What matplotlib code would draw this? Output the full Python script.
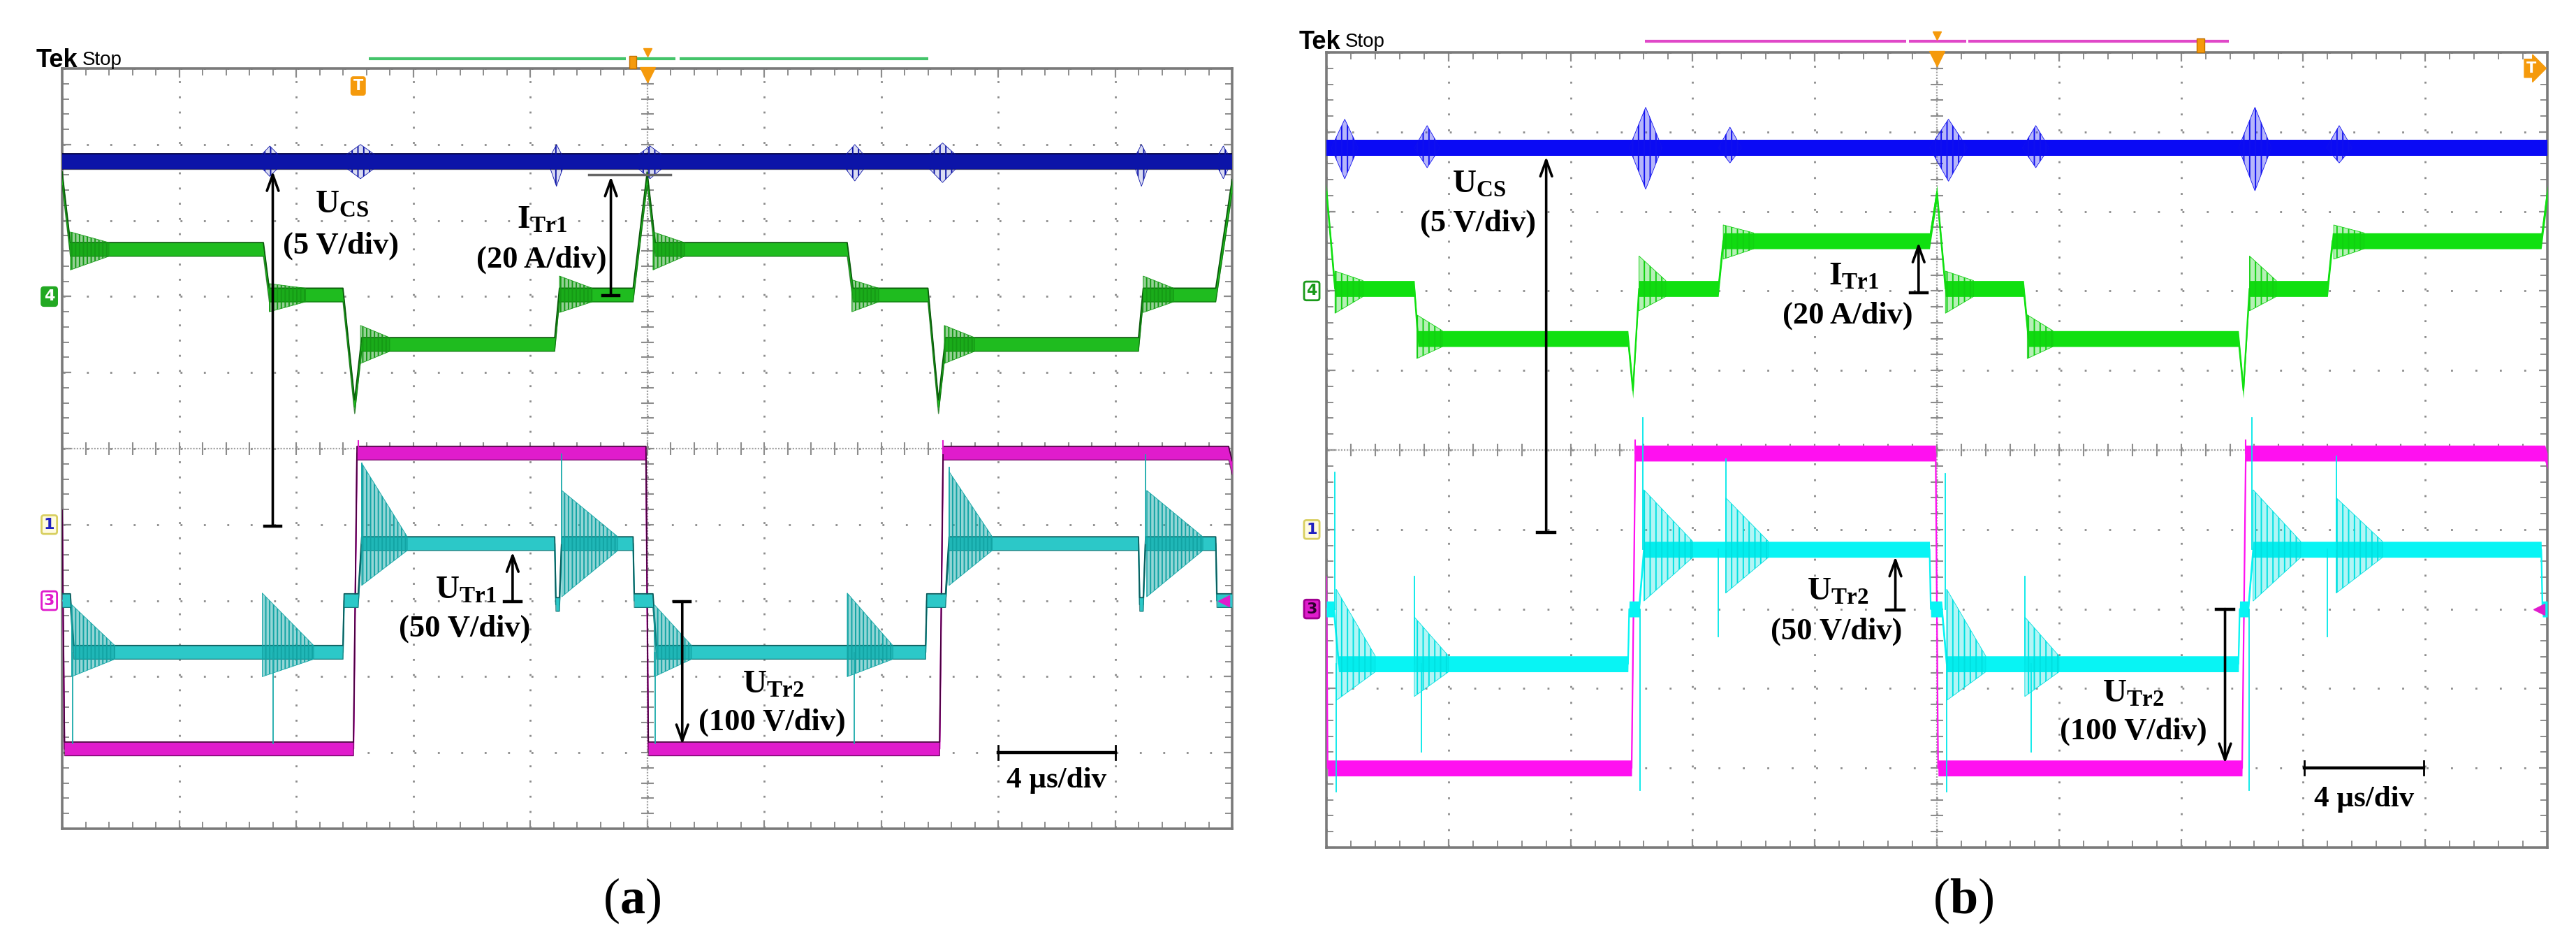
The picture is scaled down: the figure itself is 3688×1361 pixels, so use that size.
import numpy as np
import matplotlib
matplotlib.use('Agg')
import matplotlib.pyplot as plt
from matplotlib.ticker import MultipleLocator
from matplotlib.patches import Rectangle
from matplotlib.colors import to_rgba

plt.rcParams['lines.scale_dashes'] = False
plt.rcParams['hatch.linewidth'] = 1.4
plt.rcParams['mathtext.fontset'] = 'custom'
plt.rcParams['mathtext.rm'] = 'Liberation Serif'
plt.rcParams['mathtext.bf'] = 'Liberation Serif:bold'
plt.rcParams['mathtext.it'] = 'Liberation Serif:italic'

W, H = 3688, 1361
FW, FH = W / 100, H / 100

# ---------------- panel (a) : x in div (4 us/div), y in div ----------------
a_blue_x = [0.0, 10.0]
a_blue_y = [3.78, 3.78]
a_blue_burst = [(1.65, 1.90, 3.98, 3.58), (2.35, 2.75, 4.00, 3.55), (4.15, 4.30, 4.00, 3.45),
                (4.85, 5.20, 3.98, 3.55), (6.65, 6.90, 4.00, 3.52), (7.35, 7.70, 4.02, 3.50),
                (9.15, 9.30, 4.00, 3.45), (9.85, 10.0, 3.98, 3.55)]

a_green_x = [0.0, 0.07, 1.72, 1.77, 2.40, 2.50, 2.56, 4.21, 4.25, 4.88, 5.00,
             5.07, 6.71, 6.76, 7.40, 7.49, 7.55, 9.20, 9.24, 9.86, 10.0]
a_green_y = [3.55, 2.62, 2.62, 2.02, 2.02, 0.55, 1.37, 1.37, 2.02, 2.02, 3.55,
             2.62, 2.62, 2.02, 2.02, 0.55, 1.37, 1.37, 2.02, 2.02, 3.45]
a_green_ring = [(0.07, 0.40, 2.85, 2.35, 2.62), (1.77, 2.08, 2.17, 1.80, 2.02),
                (2.55, 2.80, 1.62, 1.12, 1.37), (4.25, 4.53, 2.27, 1.79, 2.02),
                (5.05, 5.32, 2.85, 2.35, 2.62), (6.75, 6.98, 2.22, 1.80, 2.02),
                (7.54, 7.80, 1.62, 1.12, 1.37), (9.24, 9.50, 2.27, 1.79, 2.02)]

a_mag_x = [0.0, 0.02, 2.49, 2.52, 4.99, 5.01, 7.50, 7.53, 9.97, 10.0]
a_mag_y = [-0.90, -3.95, -3.95, -0.06, -0.06, -3.95, -3.95, -0.06, -0.06, -0.25]
a_mag_spk = [(2.53, -0.06, 0.10), (7.53, -0.06, 0.10)]

a_cyan_x = [0.0, 0.07, 0.10, 2.40, 2.41, 2.53, 2.56, 4.21, 4.22, 4.25, 4.27, 4.88, 4.89,
            5.05, 5.08, 7.38, 7.39, 7.55, 7.58, 9.20, 9.21, 9.24, 9.26, 9.86, 9.87, 10.0]
a_cyan_y = [-2.0, -2.0, -2.68, -2.68, -2.0, -2.0, -1.25, -1.25, -2.05, -2.05, -1.25, -1.25, -2.0,
            -2.0, -2.68, -2.68, -2.0, -2.0, -1.25, -1.25, -2.05, -2.05, -1.25, -1.25, -2.0, -2.0]
a_cyan_ring = [(0.08, 0.45, -2.05, -3.00, -2.68), (1.71, 2.15, -1.90, -3.00, -2.68),
               (2.56, 2.95, -0.19, -1.80, -1.25), (4.27, 4.75, -0.55, -1.95, -1.25),
               (5.06, 5.38, -2.05, -3.00, -2.68), (6.71, 7.10, -1.90, -3.00, -2.68),
               (7.58, 7.95, -0.30, -1.80, -1.25), (9.27, 9.75, -0.55, -1.95, -1.25)]
a_cyan_spk = [(0.09, -2.68, -3.88), (1.80, -2.68, -3.88), (5.07, -2.68, -3.88), (6.77, -2.68, -3.88),
              (2.56, -1.25, -0.19), (4.27, -1.25, -0.07), (7.58, -1.25, -0.25), (9.26, -1.25, -0.08)]

# ---------------- panel (b) ----------------
b_blue_x = [0.0, 10.0]
b_blue_y = [3.80, 3.80]
b_blue_burst = [(0.04, 0.26, 4.16, 3.41), (0.72, 0.93, 4.08, 3.55), (2.48, 2.75, 4.31, 3.28),
                (3.21, 3.40, 4.06, 3.61), (4.94, 5.25, 4.16, 3.38), (5.70, 5.92, 4.08, 3.55),
                (7.47, 7.74, 4.31, 3.26), (8.19, 8.40, 4.08, 3.61)]

b_green_x = [0.0, 0.07, 0.72, 0.75, 2.47, 2.51, 2.56, 3.21, 3.25, 4.94, 5.00,
             5.07, 5.71, 5.75, 7.47, 7.51, 7.56, 8.20, 8.24, 9.95, 10.0]
b_green_y = [3.25, 2.03, 2.03, 1.40, 1.40, 0.75, 2.03, 2.03, 2.63, 2.63, 3.23,
             2.03, 2.03, 1.40, 1.40, 0.75, 2.03, 2.03, 2.63, 2.63, 3.23]
b_green_ring = [(0.07, 0.30, 2.25, 1.72, 2.03), (0.74, 0.95, 1.70, 1.15, 1.40),
                (2.56, 2.78, 2.44, 1.75, 2.03), (3.25, 3.50, 2.83, 2.40, 2.63),
                (5.07, 5.30, 2.25, 1.72, 2.03), (5.74, 5.95, 1.70, 1.15, 1.40),
                (7.56, 7.78, 2.44, 1.75, 2.03), (8.25, 8.50, 2.83, 2.40, 2.63)]

b_mag_x = [0.0, 0.01, 2.50, 2.53, 4.99, 5.01, 7.50, 7.53, 9.98, 10.0]
b_mag_y = [-1.60, -4.0, -4.0, -0.04, -0.04, -4.0, -4.0, -0.04, -0.04, -0.14]
b_mag_spk = [(2.53, -0.04, 0.12), (7.53, -0.04, 0.12)]

b_cyan_x = [0.0, 0.06, 0.10, 2.47, 2.48, 2.56, 2.60, 4.94, 4.95, 5.04, 5.08,
            7.47, 7.48, 7.55, 7.59, 9.95, 9.96, 10.0]
b_cyan_y = [-2.0, -2.0, -2.69, -2.69, -2.0, -2.0, -1.25, -1.25, -2.0, -2.0, -2.69,
            -2.69, -2.0, -2.0, -1.25, -1.25, -2.0, -2.0]
b_cyan_ring = [(0.08, 0.40, -1.75, -3.15, -2.69), (0.72, 1.00, -2.10, -3.10, -2.69),
               (2.60, 3.00, -0.50, -1.90, -1.25), (3.27, 3.62, -0.60, -1.80, -1.25),
               (5.08, 5.40, -1.75, -3.15, -2.69), (5.72, 6.00, -2.10, -3.10, -2.69),
               (7.59, 7.98, -0.50, -1.90, -1.25), (8.27, 8.65, -0.60, -1.80, -1.25)]
b_cyan_spk = [(0.07, -2.0, -0.28), (0.08, -2.69, -4.30), (0.72, -2.69, -1.59), (0.78, -2.69, -3.80),
              (2.59, -1.25, 0.40), (2.57, -2.0, -4.28), (3.21, -1.25, -2.35), (3.27, -1.25, -0.11),
              (5.07, -2.0, -0.30), (5.08, -2.69, -4.30), (5.72, -2.69, -1.59), (5.77, -2.69, -3.80),
              (7.58, -1.25, 0.40), (7.56, -2.0, -4.28), (8.20, -1.25, -2.35), (8.27, -1.25, -0.08)]

GRID = '#8c8c8c'
ORANGE = '#f59a0c'


def trace(ax, x, y, w, col, edge=None, lw=1.6):
    x = np.asarray(x)
    y = np.asarray(y)
    ax.fill_between(x, y - w, y + w, color=col, lw=0, zorder=3)
    ax.plot(x, y, color=col, lw=lw, zorder=3)
    if edge:
        ax.plot(x, y + w, color=edge, lw=1.3, zorder=3)
        ax.plot(x, y - w, color=edge, lw=0.9, zorder=3, alpha=0.7)


def rings(ax, rl, w, col, hatch='|||', alpha=0.45):
    for x0, x1, t, b, s in rl:
        ax.fill([x0, x1, x1, x0], [t, s + w, s - w, b], facecolor=to_rgba(col, alpha),
                edgecolor=col, hatch=hatch, lw=0.6, zorder=3)


def bursts(ax, bl, lev, col, hatch='|||', alpha=0.3):
    for x0, x1, t, b in bl:
        xc = (x0 + x1) / 2
        ax.fill([x0, xc, x1, xc], [lev, t, lev, b], facecolor=to_rgba(col, alpha),
                edgecolor=col, hatch=hatch, lw=0.6, zorder=3)


def spikes(ax, sl, col, lw=1.5):
    for x, y0, y1 in sl:
        ax.plot([x, x], [y0, y1], color=col, lw=lw, zorder=3)


def graticule(ax):
    ax.set_xlim(0, 10)
    ax.set_ylim(-5, 5)
    for a in (ax.xaxis, ax.yaxis):
        a.set_major_locator(MultipleLocator(1))
        a.set_minor_locator(MultipleLocator(0.2))
    ax.tick_params(which='both', direction='in', top=True, right=True,
                   labelbottom=False, labelleft=False, colors=GRID)
    ax.tick_params(which='major', length=9, width=1.6)
    ax.tick_params(which='minor', length=7, width=1.4)
    for s in ax.spines.values():
        s.set_color('#7a7a7a')
        s.set_linewidth(2.6)
    bb = ax.get_position()
    wpt = bb.width * FW * 72 / 50
    hpt = bb.height * FH * 72 / 50
    ax.xaxis.grid(True, which='major', color=GRID, lw=2.0, linestyle=(-1, (2.0, hpt - 2.0)))
    ax.yaxis.grid(True, which='major', color=GRID, lw=2.0, linestyle=(-1, (2.0, wpt - 2.0)))
    ax.set_axisbelow(True)
    ax.axhline(0, color='#a0a0a0', lw=1.6, ls=(0, (1.5, 1.5)), zorder=1)
    ax.axvline(5, color='#a0a0a0', lw=1.6, ls=(0, (1.5, 1.5)), zorder=1)
    tk = np.arange(0, 10.01, 0.2)
    ax.plot(tk, np.zeros_like(tk), ls='none', marker='|', ms=13, mew=1.5, color=GRID, zorder=1)
    ax.plot(np.full_like(tk, 5.0), tk - 5, ls='none', marker='_', ms=13, mew=1.5, color=GRID, zorder=1)


def arrow(ax, x, tip, tail, d=0.07):
    ax.annotate('', xy=(x, tip), xytext=(x, tail), zorder=6,
                arrowprops=dict(arrowstyle='->,head_length=0.55,head_width=0.2', color='k',
                                lw=2.6, shrinkA=0, shrinkB=0, mutation_scale=30))
    ax.plot([x - d, x + d], [tail, tail], color='k', lw=3.2, zorder=6)


def label(ax, x, y, s, fs=32):
    ax.text(x, y, s, ha='center', va='center', fontsize=fs, fontweight='bold',
            family='Liberation Serif', zorder=7)


def scalebar(ax, x0, x1, y, ty):
    ax.plot([x0, x1], [y, y], color='k', lw=3.2, zorder=6)
    ax.plot([x0, x0], [y - 0.09, y + 0.09], color='k', lw=2, zorder=6)
    ax.plot([x1, x1], [y - 0.09, y + 0.09], color='k', lw=2, zorder=6)
    label(ax, (x0 + x1) / 2, ty, '4 \u00b5s/div', fs=31)


def chmark(ax, x, y, s, fc, ec, tc):
    ax.text(x, y, s, ha='center', va='center', fontsize=16, fontweight='bold', color=tc,
            family='DejaVu Sans', zorder=7, clip_on=False,
            bbox=dict(boxstyle='round,pad=0.15', fc=fc, ec=ec, lw=2))


fig = plt.figure(figsize=(FW, FH), dpi=100)
fig.patch.set_facecolor('white')

ax_a = fig.add_axes([89 / W, 1 - 1186 / H, (1764 - 89) / W, (1186 - 98) / H])
ax_b = fig.add_axes([1899 / W, 1 - 1213 / H, (3647 - 1899) / W, (1213 - 75) / H])
graticule(ax_a)
graticule(ax_b)

# ---- panel (a) traces ----
trace(ax_a, a_blue_x, a_blue_y, 0.10, '#0c14a8', '#000040', lw=2)
bursts(ax_a, a_blue_burst, 3.78, '#0c14a8', hatch='||', alpha=0.15)
trace(ax_a, a_green_x, a_green_y, 0.09, '#1fbc1f', '#0a5a0a')
rings(ax_a, a_green_ring, 0.09, '#159a15')
trace(ax_a, a_mag_x, a_mag_y, 0.09, '#e01ccc', '#4a0040')
spikes(ax_a, a_mag_spk, '#e01ccc')
trace(ax_a, a_cyan_x, a_cyan_y, 0.09, '#2cc8c8', '#0a5c5c')
rings(ax_a, a_cyan_ring, 0.09, '#12a4a4')
spikes(ax_a, a_cyan_spk, '#1aaaaa', lw=1.3)

# ---- panel (b) traces ----
trace(ax_b, b_blue_x, b_blue_y, 0.10, '#0a0af5', None, lw=2)
bursts(ax_b, b_blue_burst, 3.80, '#1010f0', hatch='||')
trace(ax_b, b_green_x, b_green_y, 0.10, '#10e010', None)
rings(ax_b, b_green_ring, 0.10, '#10d010', hatch='||', alpha=0.3)
trace(ax_b, b_mag_x, b_mag_y, 0.10, '#ff10f0', None)
spikes(ax_b, b_mag_spk, '#ff10f0')
trace(ax_b, b_cyan_x, b_cyan_y, 0.10, '#08f4f4', None)
rings(ax_b, b_cyan_ring, 0.10, '#00e0e0', hatch='||', alpha=0.3)
spikes(ax_b, b_cyan_spk, '#00e8e8', lw=1.3)

# ---- annotations (a) ----
arrow(ax_a, 1.80, 3.65, -1.02)
label(ax_a, 2.39, 3.20, r'$\mathbf{U_{CS}}$', fs=34)
label(ax_a, 2.38, 2.67, '(5 V/div)')
ax_a.plot([4.50, 5.20], [3.60, 3.60], color='#666666', lw=2.5, zorder=5)
arrow(ax_a, 4.69, 3.58, 2.01)
label(ax_a, 4.10, 3.00, r'$\mathbf{I_{Tr1}}$', fs=34)
label(ax_a, 4.10, 2.48, '(20 A/div)')
arrow(ax_a, 3.85, -1.36, -2.01)
label(ax_a, 3.45, -1.87, r'$\mathbf{U_{Tr1}}$', fs=34)
label(ax_a, 3.44, -2.37, '(50 V/div)')
arrow(ax_a, 5.30, -3.89, -2.01)
label(ax_a, 6.08, -3.11, r'$\mathbf{U_{Tr2}}$', fs=34)
label(ax_a, 6.07, -3.60, '(100 V/div)')
scalebar(ax_a, 8.0, 9.0, -4.0, -4.37)

# ---- annotations (b) ----
arrow(ax_b, 1.80, 3.69, -1.04)
label(ax_b, 1.25, 3.33, r'$\mathbf{U_{CS}}$', fs=34)
label(ax_b, 1.24, 2.85, '(5 V/div)')
arrow(ax_b, 4.85, 2.61, 1.98)
label(ax_b, 4.32, 2.17, r'$\mathbf{I_{Tr1}}$', fs=34)
label(ax_b, 4.27, 1.69, '(20 A/div)')
arrow(ax_b, 4.66, -1.34, -2.01)
label(ax_b, 4.19, -1.79, r'$\mathbf{U_{Tr2}}$', fs=34)
label(ax_b, 4.18, -2.28, '(50 V/div)')
arrow(ax_b, 7.36, -3.94, -2.00)
label(ax_b, 6.61, -3.07, r'$\mathbf{U_{Tr2}}$', fs=34)
label(ax_b, 6.61, -3.54, '(100 V/div)')
scalebar(ax_b, 8.01, 8.99, -4.0, -4.39)

# ---- scope decorations ----
for seg in [(2.62, 4.82), (4.91, 5.24), (5.28, 7.40)]:
    ax_a.plot(seg, [5.129, 5.129], color='#44c46a', lw=3, clip_on=False, solid_capstyle='butt')
ax_a.add_patch(Rectangle((4.845, 5.0), 0.06, 0.165, fc=ORANGE, ec='#c07000', lw=1, clip_on=False, zorder=6))
ax_a.plot([5.0], [5.21], marker='v', ms=9, color=ORANGE, clip_on=False)
ax_a.plot([5.0], [4.92], marker='v', ms=16, color=ORANGE, clip_on=False, zorder=6)
ax_a.text(2.53, 4.77, 'T', ha='center', va='center', fontsize=15, fontweight='bold', color='white',
          zorder=7, bbox=dict(boxstyle='round,pad=0.15', fc=ORANGE, ec=ORANGE))
chmark(ax_a, -0.11, 2.0, '4', '#22a822', '#22a822', 'white')
chmark(ax_a, -0.11, -1.0, '1', '#fffbe0', '#d8cf60', '#2020c0')
chmark(ax_a, -0.11, -2.0, '3', 'white', '#e01ccc', '#e01ccc')
ax_a.plot([9.93], [-2.0], marker='<', ms=12, color='#e01ccc', zorder=6)

for seg in [(2.61, 4.75), (4.77, 5.24), (5.26, 7.39)]:
    ax_b.plot(seg, [5.14, 5.14], color='#e048c8', lw=3, clip_on=False, solid_capstyle='butt')
ax_b.add_patch(Rectangle((7.13, 5.0), 0.06, 0.18, fc=ORANGE, ec='#c07000', lw=1, clip_on=False, zorder=6))
ax_b.plot([5.0], [5.21], marker='v', ms=9, color=ORANGE, clip_on=False)
ax_b.plot([5.0], [4.92], marker='v', ms=16, color=ORANGE, clip_on=False, zorder=6)
ax_b.text(9.87, 4.80, 'T', ha='center', va='center', fontsize=15, fontweight='bold', color='white',
          zorder=7, bbox=dict(boxstyle='rarrow,pad=0.15', fc=ORANGE, ec=ORANGE))
chmark(ax_b, -0.12, 2.0, '4', 'white', '#1a9a1a', '#1a9a1a')
chmark(ax_b, -0.12, -1.0, '1', '#fffbe0', '#d8cf60', '#2020c0')
chmark(ax_b, -0.12, -2.0, '3', '#e01ccc', '#a00090', '#300030')
ax_b.plot([9.93], [-2.0], marker='<', ms=12, color='#e01ccc', zorder=6)

tek_font = ['Liberation Sans Narrow', 'Liberation Sans']
fig.text(52 / W, 1 - 86 / H, 'Tek', fontsize=26, fontweight='bold', family=tek_font, va='center')
fig.text(118 / W, 1 - 86 / H, 'Stop', fontsize=20, family=tek_font, va='center')
fig.text(1860 / W, 1 - 60 / H, 'Tek', fontsize=26, fontweight='bold', family=tek_font, va='center')
fig.text(1926 / W, 1 - 60 / H, 'Stop', fontsize=20, family=tek_font, va='center')

fig.text(905 / W, 1 - 1289 / H, r'($\mathbf{a}$)', ha='center', va='center', fontsize=52,
         family='Liberation Serif')
fig.text(2811 / W, 1 - 1289 / H, r'($\mathbf{b}$)', ha='center', va='center', fontsize=52,
         family='Liberation Serif')

fig.savefig('out.png', dpi=100)
